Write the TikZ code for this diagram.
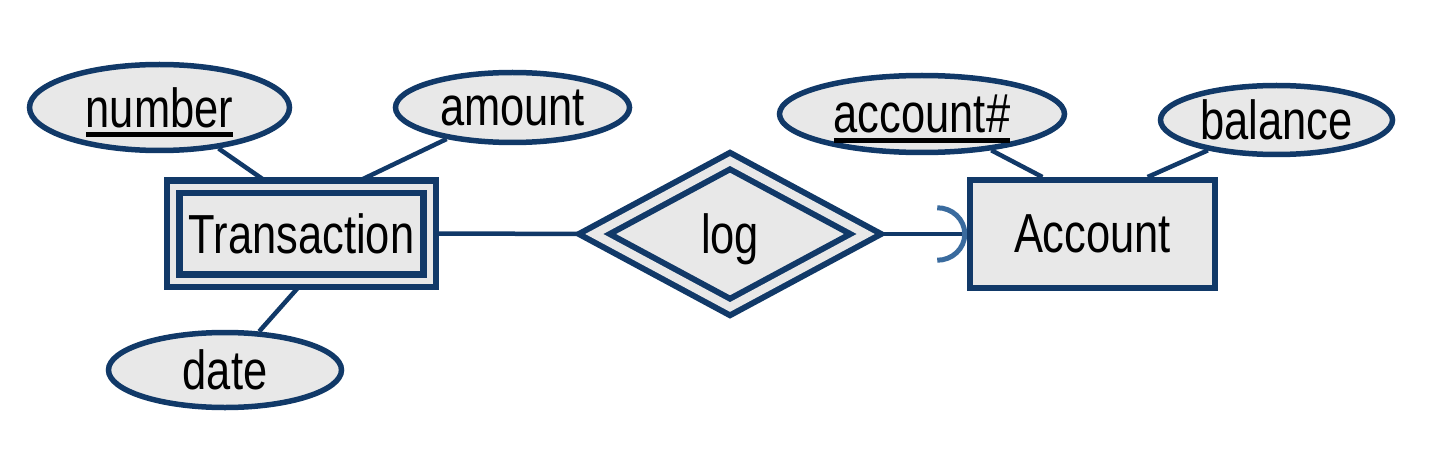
\documentclass[tikz,border=0pt]{standalone}
\usepackage{fontspec}
\setmainfont{Liberation Sans}[FakeStretch=0.79]
\usetikzlibrary{arrows.meta,shapes.geometric,calc,backgrounds}
\definecolor{navy}{HTML}{113968}
\definecolor{greyf}{HTML}{E8E8E8}
\definecolor{tipblue}{HTML}{3A6B9E}
\newcommand{\pkey}[1]{\setbox0\hbox{#1}\rlap{\smash{\rule[-0.18em]{\wd0}{0.09em}}}\box0}
\tikzset{
  entity/.style={draw=navy,fill=greyf,line width=0.12cm,inner sep=0pt},
  weakent/.style={draw=navy,double=greyf,fill=greyf,line width=0.13cm,double distance=0.12cm,inner sep=0pt},
  attr/.style={ellipse,draw=navy,fill=greyf,line width=0.11cm,inner sep=0pt},
  idrel/.style={diamond,draw=navy,double=greyf,fill=greyf,line width=0.12cm,double distance=0.17cm,inner sep=0pt},
  link/.style={navy,line width=0.09cm}
}

\begin{document}
\begin{tikzpicture}[font=\fontsize{31.3pt}{36pt}\selectfont,text depth=0pt]
    \useasboundingbox (0,0) rectangle (28.84,9);
    % entities and relationship
    \node[weakent,minimum width=5.13cm,minimum height=1.88cm] (trans) at (6.03,4.33){Transaction};
    \node[idrel,minimum width=5.48cm,minimum height=2.97cm] (log) at (14.60,4.32){log};
    \node[entity,minimum width=4.89cm,minimum height=2.16cm] (account) at (21.85,4.32){Account};
    % attributes
    \node[attr,minimum width=5.2cm,minimum height=1.72cm] (number) at (3.19,6.85){\pkey{number}};
    \node[attr,minimum width=4.68cm,minimum height=1.40cm] (amount) at (10.25,6.85){amount};
    \node[attr,minimum width=4.66cm,minimum height=1.50cm] (date) at (4.50,1.60){date};
    \node[attr,minimum width=5.70cm,minimum height=1.54cm] (accno) at (18.44,6.72){\pkey{account\#}};
    \node[attr,minimum width=4.64cm,minimum height=1.38cm] (balance) at (25.53,6.60){balance};
    % connectors
    \begin{scope}[on background layer]
      \draw[link] (number) -- ($(trans.north west)!0.375!(trans.north east)$);
      \draw[link] (amount) -- ($(trans.north west)!0.70!(trans.north east)$);
      \draw[link] (date) -- (trans.south);
      \draw[link] (accno) -- ($(account.north west)!0.30!(account.north east)$);
      \draw[link] (balance) -- ($(account.north west)!0.72!(account.north east)$);
      \draw[link] (trans) -- (log);
      \draw[link,-{Arc Barb[length=0.6cm,width=1.15cm,line width'=0.1cm,color=tipblue]}] (log) -- (account);
    \end{scope}
\end{tikzpicture}
\end{document}
